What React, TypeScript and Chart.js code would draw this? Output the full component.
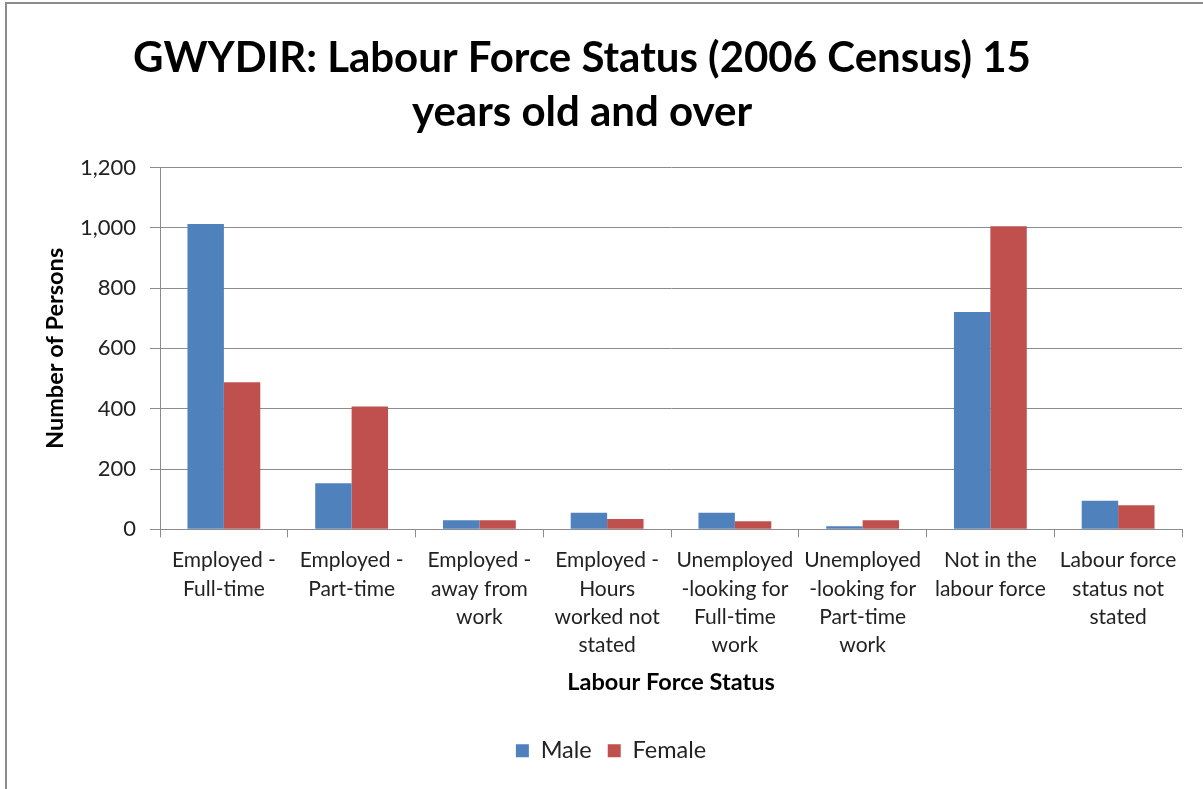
import { useEffect, useRef } from "react";
import { Chart, registerables } from "chart.js";

Chart.register(...registerables);

const chartTitle = ["GWYDIR: Labour Force Status (2006 Census) 15", "years old and over"];
const categories: string[][] = [
  ["Employed -", "Full-time"],
  ["Employed -", "Part-time"],
  ["Employed -", "away from", "work"],
  ["Employed -", "Hours", "worked not", "stated"],
  ["Unemployed", "-looking for", "Full-time", "work"],
  ["Unemployed", "-looking for", "Part-time", "work"],
  ["Not in the", "labour force"],
  ["Labour force", "status not", "stated"],
];
const maleValues = [1013, 153, 30, 55, 55, 10, 721, 95];
const femaleValues = [488, 407, 30, 34, 27, 30, 1005, 80];
const yMin = 0;
const yMax = 1200;
const yStep = 200;
const xAxisTitle = "Labour Force Status";
const yAxisTitle = "Number of Persons";

const FONT = "Lato, 'Open Sans', sans-serif";
const GRID = "#8c8c8c";

export default function App() {
  const ref = useRef<HTMLCanvasElement | null>(null);

  useEffect(() => {
    if (!ref.current) return;
    const shiftPlugin = {
      id: "shiftBoxes",
      afterLayout(chart: any) {
        const l = chart.legend;
        if (l) {
          l.left += 20;
          l.right += 20;
        }
        const t = chart.titleBlock;
        if (t) {
          t.left -= 9;
          t.right -= 9;
        }
      },
    };
    const chart = new Chart(ref.current, {
      type: "bar",
      data: {
        labels: categories,
        datasets: [
          {
            label: "Male",
            data: maleValues,
            backgroundColor: "#4F81BD",
            borderWidth: 0,
            categoryPercentage: 0.57,
            barPercentage: 1.0,
          },
          {
            label: "Female",
            data: femaleValues,
            backgroundColor: "#C0504D",
            borderWidth: 0,
            categoryPercentage: 0.57,
            barPercentage: 1.0,
          },
        ],
      },
      options: {
        responsive: false,
        animation: false,
        devicePixelRatio: 1,
        layout: { padding: { left: 0, right: 21, top: 0, bottom: 16.5 } },
        plugins: {
          title: {
            display: true,
            text: chartTitle,
            color: "#000",
            font: { family: FONT, size: 42, weight: "bold", lineHeight: 54 / 42 },
            padding: { top: 31, bottom: 28.5 },
          },
          legend: {
            position: "bottom",
            labels: {
              boxWidth: 13,
              boxHeight: 13,
              padding: 16,
              color: "#222",
              font: { family: FONT, size: 23.5 },
            },
          },
          tooltip: { enabled: false },
        },
        scales: {
          x: {
            offset: true,
            grid: {
              offset: true,
              drawOnChartArea: false,
              drawTicks: true,
              tickLength: 8,
              color: GRID,
            },
            border: { display: true, color: GRID, width: 1 },
            ticks: {
              autoSkip: false,
              maxRotation: 0,
              minRotation: 0,
              padding: 9,
              color: "#222",
              font: { family: FONT, size: 21, lineHeight: 28.4 / 21 },
            },
            title: {
              display: true,
              text: xAxisTitle,
              color: "#000",
              font: { family: FONT, size: 23.5, weight: "bold" },
              padding: { top: 0, bottom: 26.9 },
            },
            afterFit(scale: any) {
              scale.height = 193.7;
            },
          },
          y: {
            min: yMin,
            max: yMax,
            grid: { color: GRID, tickLength: 10, drawTicks: true },
            border: { display: true, color: GRID, width: 1 },
            ticks: {
              stepSize: yStep,
              padding: 14,
              color: "#222",
              font: { family: FONT, size: 22 },
            },
            title: {
              display: true,
              text: yAxisTitle,
              color: "#000",
              font: { family: FONT, size: 23.5, weight: "bold" },
              padding: { top: 41, bottom: 0 },
            },
            afterFit(scale: any) {
              scale.width = 160;
            },
          },
        },
      },
      plugins: [shiftPlugin],
    });
    return () => chart.destroy();
  }, []);

  return (
    <div
      style={{
        position: "fixed",
        left: 0,
        top: 0,
        width: 1203,
        height: 789,
        overflow: "hidden",
        background: "#fff",
      }}
    >
      <div
        style={{
          position: "absolute",
          left: 5,
          top: 2,
          width: 1400,
          height: 1000,
          borderTop: "2px solid #8c8c8c",
          borderLeft: "2px solid #8c8c8c",
        }}
      />
      <canvas
        ref={ref}
        width={1203}
        height={789}
        style={{ position: "absolute", left: 0, top: 0, width: 1203, height: 789 }}
      />
    </div>
  );
}
